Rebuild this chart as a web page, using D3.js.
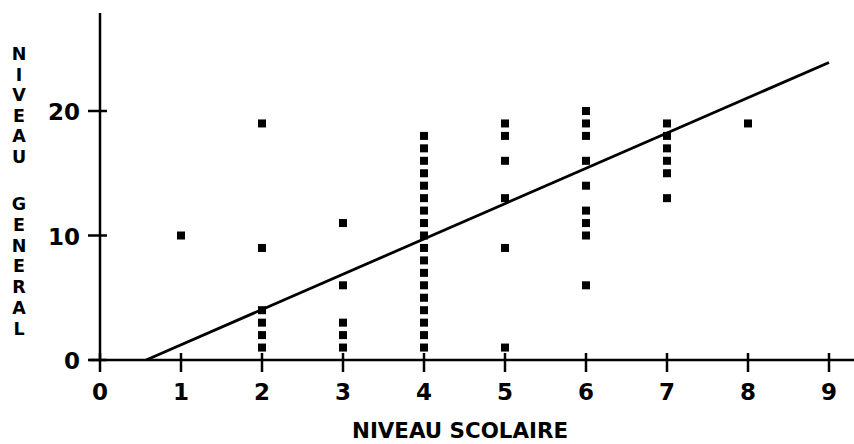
<!DOCTYPE html>
<html>
<head>
<meta charset="utf-8">
<script src="https://cdn.jsdelivr.net/npm/d3@7"></script>
<style>
  body { margin: 0; background: #fff; }
  svg { display: block; }
  text { font-family: "DejaVu Sans", sans-serif; font-weight: bold; fill: #000; }
</style>
</head>
<body>
<div id="chart"></div>
<script>
// niveau scolaire (x) -> niveau general (y) observations
const scolaire = [1,
  2, 2, 2, 2, 2, 2,
  3, 3, 3, 3, 3,
  4, 4, 4, 4, 4, 4, 4, 4, 4, 4, 4, 4, 4, 4, 4, 4, 4, 4,
  5, 5, 5, 5, 5, 5,
  6, 6, 6, 6, 6, 6, 6, 6, 6,
  7, 7, 7, 7, 7, 7,
  8];
const general = [10,
  1, 2, 3, 4, 9, 19,
  1, 2, 3, 6, 11,
  1, 2, 3, 4, 5, 6, 7, 8, 9, 10, 11, 12, 13, 14, 15, 16, 17, 18,
  1, 9, 13, 16, 18, 19,
  6, 10, 11, 12, 14, 16, 18, 19, 20,
  13, 15, 16, 17, 18, 19,
  19];
// fitted line as drawn
const lineX = [0.57, 9];
const lineY = [0, 23.9];
const xTicks = [0, 1, 2, 3, 4, 5, 6, 7, 8, 9];
const yTicks = [0, 10, 20];

const width = 854, height = 444;
const svg = d3.select("#chart").append("svg")
  .attr("width", width).attr("height", height);

const x = d3.scaleLinear().domain([0, 9]).range([100, 829]);
const y = d3.scaleLinear().domain([0, 20]).range([360, 111]);

// axes lines
svg.append("line")
  .attr("x1", 89).attr("x2", 854).attr("y1", y(0)).attr("y2", y(0))
  .attr("stroke", "#000").attr("stroke-width", 2.5);
svg.append("line")
  .attr("x1", x(0)).attr("x2", x(0)).attr("y1", 13).attr("y2", y(0))
  .attr("stroke", "#000").attr("stroke-width", 2.5);

// x ticks
const xg = svg.append("g");
xg.selectAll("line").data(xTicks).join("line")
  .attr("x1", d => x(d)).attr("x2", d => x(d))
  .attr("y1", y(0) - 7).attr("y2", y(0) + 12)
  .attr("stroke", "#000").attr("stroke-width", 2.5);
xg.selectAll("text").data(xTicks).join("text")
  .attr("x", d => x(d)).attr("y", 400)
  .attr("text-anchor", "middle").attr("font-size", 23)
  .text(d => d);

// y ticks
const yg = svg.append("g");
yg.selectAll("line").data(yTicks).join("line")
  .attr("x1", x(0) - 12).attr("x2", x(0) + 7)
  .attr("y1", d => y(d)).attr("y2", d => y(d))
  .attr("stroke", "#000").attr("stroke-width", 2.5);
yg.selectAll("text").data(yTicks).join("text")
  .attr("x", 80).attr("y", d => y(d) + 9)
  .attr("text-anchor", "end").attr("font-size", 23)
  .text(d => d);

// regression line
svg.append("path")
  .datum(lineX.map((v, i) => [v, lineY[i]]))
  .attr("d", d3.line().x(d => x(d[0])).y(d => y(d[1])))
  .attr("fill", "none").attr("stroke", "#000").attr("stroke-width", 2.8);

// points
const s = 8;
svg.append("g").selectAll("rect").data(scolaire).join("rect")
  .attr("x", (d) => x(d) - s / 2)
  .attr("y", (d, i) => y(general[i]) - s / 2)
  .attr("width", s).attr("height", s)
  .attr("fill", "#000");

// x title
svg.append("text")
  .attr("x", 352).attr("y", 438)
  .attr("font-size", 22)
  .attr("textLength", 216).attr("lengthAdjust", "spacingAndGlyphs")
  .text("NIVEAU SCOLAIRE");

// y title, letters stacked one above the other
const word1 = "NIVEAU".split("");
const word2 = "GENERAL".split("");
const yt = svg.append("g").attr("font-size", 17.5).attr("text-anchor", "middle");
yt.selectAll("text.w1").data(word1).join("text").attr("class", "w1")
  .attr("x", 19).attr("y", (d, i) => 60 + i * 20.5)
  .text(d => d);
yt.selectAll("text.w2").data(word2).join("text").attr("class", "w2")
  .attr("x", 19).attr("y", (d, i) => 210 + i * 20.8)
  .text(d => d);
</script>
</body>
</html>
